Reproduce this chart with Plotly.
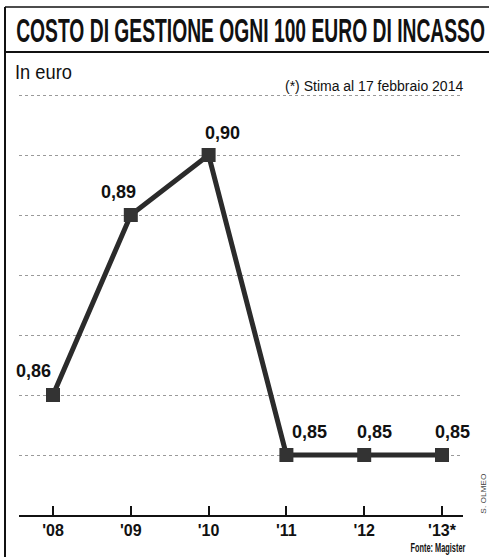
import plotly.graph_objects as go

years = ["'08", "'09", "'10", "'11", "'12", "'13*"]
values = [0.86, 0.89, 0.90, 0.85, 0.85, 0.85]
value_labels = ["0,86", "0,89", "0,90", "0,85", "0,85", "0,85"]

title = "COSTO DI GESTIONE OGNI 100 EURO DI INCASSO"
subtitle = "In euro"
note = "(*) Stima al 17 febbraio 2014"
source = "Fonte: Magister"
credit = "S. OLMEO"

# label offsets (px) relative to the point
label_dx = [-20, -12, 14, 23, 10, 10]
label_dy = [24, 23, 22, 23, 23, 23]

W, H = 489, 557
L, R, T, B = 19, 26, 83, 42
PW = W - L - R
PH = H - T - B

def px(x):
    return (x - L) / PW

def py(y):
    return (H - B - y) / PH

x_idx = list(range(len(years)))

fig = go.Figure()
fig.add_trace(go.Scatter(
    x=x_idx, y=values, mode="lines+markers",
    line=dict(color="#2b2b2b", width=5),
    marker=dict(symbol="square", size=14, color="#333333"),
    hoverinfo="skip", showlegend=False, cliponaxis=False,
))

annotations = []
for i, (v, t) in enumerate(zip(values, value_labels)):
    annotations.append(dict(
        x=i, y=v, xref="x", yref="y", text=t, showarrow=False,
        xshift=label_dx[i], yshift=label_dy[i],
        font=dict(family="Liberation Sans", size=18, color="#111111", weight="bold"),
        xanchor="center", yanchor="middle",
    ))

annotations += [
    dict(x=px(14), y=py(30), xref="paper", yref="paper", text=title, showarrow=False,
         xanchor="left", yanchor="middle",
         font=dict(family="Liberation Sans", size=33, color="#111111", weight="bold")),
    dict(x=px(13), y=py(71), xref="paper", yref="paper", text=subtitle, showarrow=False,
         xanchor="left", yanchor="middle",
         font=dict(family="Liberation Sans", size=21, color="#111111")),
    dict(x=px(465), y=py(86), xref="paper", yref="paper", text=note, showarrow=False,
         xanchor="right", yanchor="middle",
         font=dict(family="Liberation Sans", size=14, color="#111111")),
    dict(x=px(468), y=py(548), xref="paper", yref="paper", text=source, showarrow=False,
         xanchor="right", yanchor="middle",
         font=dict(family="Liberation Sans", size=12, color="#111111", weight="bold")),
    dict(x=px(483), y=py(494), xref="paper", yref="paper", text=credit, showarrow=False,
         textangle=-90, xanchor="center", yanchor="middle",
         font=dict(family="Liberation Sans", size=8, color="#444444")),
]

shapes = [
    dict(type="line", xref="paper", yref="paper", x0=px(5), x1=px(5), y0=py(7), y1=py(557),
         line=dict(color="#111111", width=2)),
    dict(type="line", xref="paper", yref="paper", x0=px(5), x1=px(489), y0=py(7), y1=py(7),
         line=dict(color="#111111", width=1.5)),
    dict(type="line", xref="paper", yref="paper", x0=px(5), x1=px(489), y0=py(52), y1=py(52),
         line=dict(color="#111111", width=2)),
]

fig.update_layout(
    width=W, height=H,
    margin=dict(l=L, r=R, t=T, b=B, pad=0),
    paper_bgcolor="white", plot_bgcolor="white",
    annotations=annotations, shapes=shapes,
    xaxis=dict(
        range=[-34 / 77.8, 5 + 21 / 77.8],
        tickmode="array", tickvals=x_idx, ticktext=years,
        ticks="inside", ticklen=9, tickwidth=1.5, tickcolor="#111111",
        showline=True, linecolor="#111111", linewidth=1.5,
        showgrid=False, zeroline=False,
        tickfont=dict(family="Liberation Sans", size=16, color="#111111", weight="bold"),
        fixedrange=True,
    ),
    yaxis=dict(
        range=[0.84, 0.912], tick0=0.84, dtick=0.01,
        showticklabels=False, ticks="",
        showgrid=True, gridcolor="#9a9a9a", gridwidth=1, griddash="dot",
        zeroline=False, showline=False, fixedrange=True,
    ),
)

# The original uses a compressed typeface: squeeze those texts horizontally
# to the widths they occupy in the reference.
post_script = """
var gd = document.getElementById('{plot_id}');
var targets = {
  "COSTO DI GESTIONE OGNI 100 EURO DI INCASSO": [469, 'left center'],
  "In euro": [57, 'left center'],
  "Fonte: Magister": [55, 'right center'],
  "S. OLMEO": [40, 'center center']
};
gd.querySelectorAll('text.annotation-text').forEach(function(t){
  var cfg = targets[t.textContent];
  if (!cfg) return;
  var b = t.getBBox();
  if (!b.width) return;
  var s = cfg[0] / b.width;
  t.style.transformBox = 'fill-box';
  t.style.transformOrigin = cfg[1];
  t.style.transform = 'scaleX(' + s + ')';
});
"""

fig.write_html("out.html", post_script=post_script)
